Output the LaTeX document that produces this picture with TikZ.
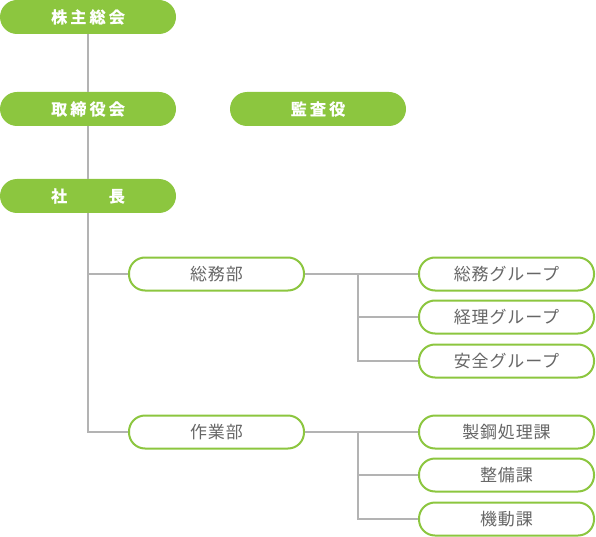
\documentclass[tikz,border=0pt]{standalone}
\usepackage{fontspec}
\setmainfont{Noto Sans CJK JP}
\newfontfamily\headfont{Noto Sans CJK JP Bold}[LetterSpace=20, FakeBold=1.2]
\newfontfamily\unitfont{Noto Sans CJK JP}[LetterSpace=5]
\definecolor{leaf}{HTML}{8CC63F}
\definecolor{wire}{HTML}{B3B3B3}
\definecolor{ink}{HTML}{666666}
\tikzset{
  head/.style={fill=leaf, rounded corners=17pt, minimum width=176pt, minimum height=34pt,
    inner sep=0pt, text=white, font=\headfont\fontsize{16}{18}\selectfont},
  unit/.style={draw=leaf, line width=2pt, fill=white, rounded corners=16pt, minimum width=175pt,
    minimum height=33pt, inner sep=0pt, text=ink, font=\unitfont\fontsize{17}{19}\selectfont},
  link/.style={draw=wire, line width=2pt}
}
\begin{document}
\begin{tikzpicture}[x=1pt, y=-1pt]
\useasboundingbox (0,0) rectangle (596,537);

% top of the tree
\node[head] (kabu) at (88,17) {株主総会};
\node[head] (tori) at (88,109) {取締役会};
\node[head] (kansa) at (318,109) {監査役};
\node[head] (sha) at (88,196) {社　　長};

% departments
\node[unit] (somu) at (216.5,274) {総務部};
\node[unit] (sagyo) at (216.5,432) {作業部};

% groups and sections
\node[unit] (g1) at (506.5,274) {総務グループ};
\node[unit] (g2) at (506.5,317) {経理グループ};
\node[unit] (g3) at (506.5,361) {安全グループ};
\node[unit] (k1) at (506.5,432) {製鋼処理課};
\node[unit] (k2) at (506.5,475) {整備課};
\node[unit] (k3) at (506.5,519) {機動課};

\coordinate (jsomu) at (358,274);
\coordinate (jsagyo) at (358,432);

% connectors
\draw[link] (kabu) -- (tori);
\draw[link] (tori) -- (sha);
\draw[link] (sha.south) |- (sagyo.west);
\draw[link] (sha.south |- somu.west) -- (somu.west);
\draw[link] (somu.east) -- (g1.west);
\draw[link] (jsomu) |- (g2.west);
\draw[link] (jsomu) |- (g3.west);
\draw[link] (sagyo.east) -- (k1.west);
\draw[link] (jsagyo) |- (k2.west);
\draw[link] (jsagyo) |- (k3.west);
\end{tikzpicture}
\end{document}
